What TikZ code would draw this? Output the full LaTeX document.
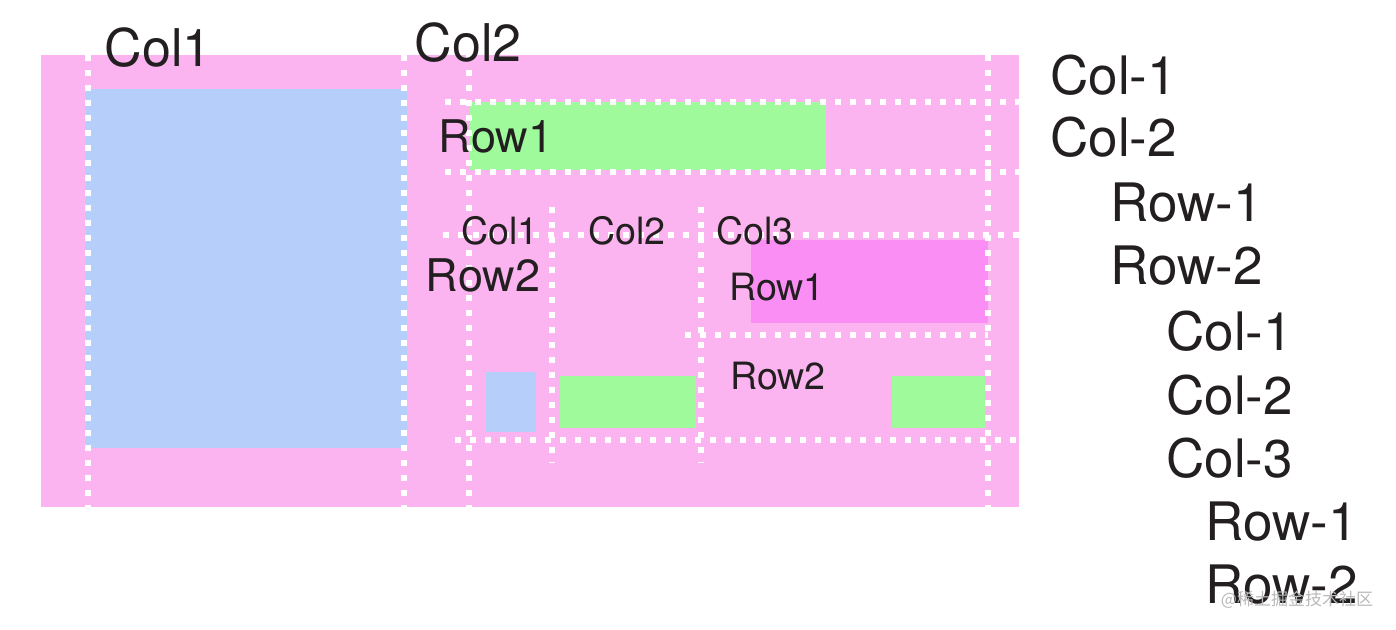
\documentclass[tikz,border=0pt]{standalone}
\usepackage{fontspec}
\setmainfont{TeX Gyre Heros}
\newfontfamily\cjkfont{Noto Sans CJK SC}
\definecolor{gridpink}{HTML}{FCB4F1}
\definecolor{itemblue}{HTML}{B5CFFA}
\definecolor{itemgreen}{HTML}{9EFA9B}
\definecolor{itempink}{HTML}{FA8EF5}
\definecolor{ink}{HTML}{231F20}
\begin{document}
\begin{tikzpicture}[x=0.5pt,y=-0.5pt,
  track/.style={white,line width=2.9pt,dash pattern=on 3pt off 4.5pt},
  big label/.style={inner sep=0,text=ink,font=\fontsize{26}{26}\selectfont},
  row label/.style={inner sep=0,text=ink,font=\fontsize{22.5}{22.5}\selectfont},
  small label/.style={inner sep=0,text=ink,font=\fontsize{18.8}{18.8}\selectfont},
  tree label/.style={inner sep=0,anchor=west,text=ink,font=\fontsize{26.5}{26.5}\selectfont},
  ]
\useasboundingbox (0,0) rectangle (1396,630);

\fill[gridpink] (41,55) rectangle (1019,507);
\fill[itemblue] (85,89) rectangle (407,448);
\fill[itemgreen] (470,102) rectangle (826,170);
\fill[itempink] (751,240) rectangle (988,323);
\fill[itemblue] (486,372) rectangle (536,432);
\fill[itemgreen] (560,376) rectangle (696,428);
\fill[itemgreen] (892,376) rectangle (985,428);

\foreach \x in {88,404,469,988}
  \draw[track] (\x,55) -- (\x,507);
\foreach \x in {552,701}
  \draw[track] (\x,207) -- (\x,463);
\foreach \y/\xs in {102/445,172/445,235/443,440/455}
  \draw[track] (\xs,\y) -- (1019,\y);
\draw[track] (685,335) -- (988,335);

\node[big label] (col1) at (158,48) {Col1};
\node[big label] (col2) at (468,43) {Col2};
\node[row label] (row1) at (496,136) {Row1};
\node[row label] (row2) at (483,275) {Row2};
\node[small label] (sub col1) at (500,231) {Col1};
\node[small label] (sub col2) at (627,231) {Col2};
\node[small label] (sub col3) at (755,231) {Col3};
\node[small label] (sub row1) at (777,287) {Row1};
\node[small label] (sub row2) at (778,376) {Row2};

\node[tree label] (t1) at (1050,75) {Col-1};
\node[tree label] (t2) at (1050,137) {Col-2};
\node[tree label] (t3) at (1110,203) {Row-1};
\node[tree label] (t4) at (1110,266) {Row-2};
\node[tree label] (t5) at (1166,331) {Col-1};
\node[tree label] (t6) at (1166,395) {Col-2};
\node[tree label] (t7) at (1166,458) {Col-3};
\node[tree label] (t8) at (1205,522) {Row-1};
\node[tree label] (t9) at (1205,585) {Row-2};

\node[inner sep=0,text=gray!55,font=\cjkfont\fontsize{8.5}{8.5}\selectfont] (mark) at (1297,600) {@稀土掘金技术社区};
\end{tikzpicture}
\end{document}
